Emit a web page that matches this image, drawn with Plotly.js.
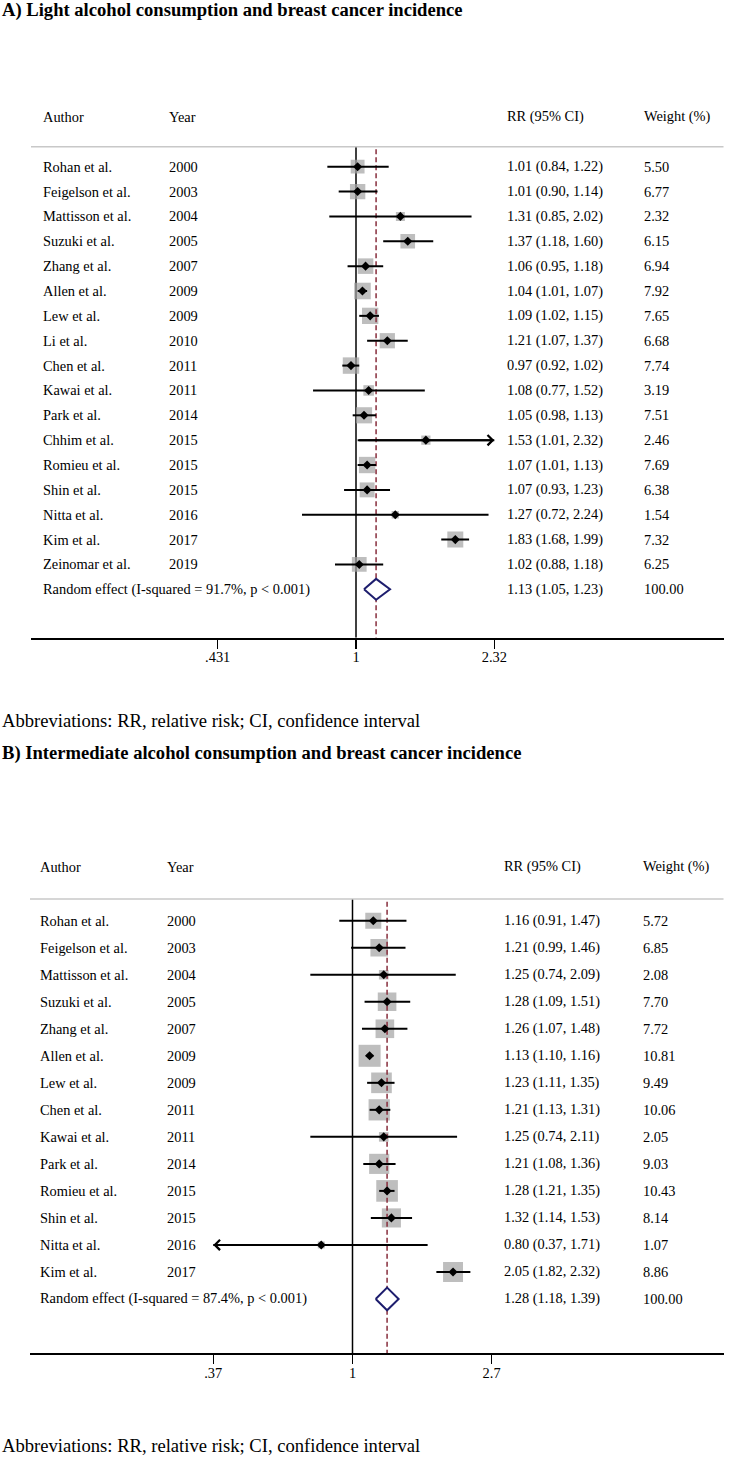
<!DOCTYPE html>
<html><head><meta charset="utf-8">
<script src="https://cdn.plot.ly/plotly-3.0.1.min.js"></script>
<style>html,body{margin:0;padding:0;background:#fff}#chart{width:750px;height:1458px}</style>
</head><body><div id="chart"></div>
<script>
// ---------- Panel A data ----------
const titleA = "A) Light alcohol consumption and breast cancer incidence";
const authorsA = ["Rohan et al.","Feigelson et al.","Mattisson et al.","Suzuki et al.","Zhang et al.","Allen et al.","Lew et al.","Li et al.","Chen et al.","Kawai et al.","Park et al.","Chhim et al.","Romieu et al.","Shin et al.","Nitta et al.","Kim et al.","Zeinomar et al."];
const yearsA = [2000,2003,2004,2005,2007,2009,2009,2010,2011,2011,2014,2015,2015,2015,2016,2017,2019];
const rrA = [1.01,1.01,1.31,1.37,1.06,1.04,1.09,1.21,0.97,1.08,1.05,1.53,1.07,1.07,1.27,1.83,1.02];
const loA = [0.84,0.90,0.85,1.18,0.95,1.01,1.02,1.07,0.92,0.77,0.98,1.01,1.01,0.93,0.72,1.68,0.88];
const hiA = [1.22,1.14,2.02,1.60,1.18,1.07,1.15,1.37,1.02,1.52,1.13,2.32,1.13,1.23,2.24,1.99,1.18];
const weightA = [5.50,6.77,2.32,6.15,6.94,7.92,7.65,6.68,7.74,3.19,7.51,2.46,7.69,6.38,1.54,7.32,6.25];
const pooledLabelA = "Random effect (I-squared = 91.7%, p < 0.001)";
const pooledA = [1.13,1.05,1.23,100.00];
const tickValsA = [0.431,1,2.32];
const tickTextA = [".431","1","2.32"];

// ---------- Panel B data ----------
const titleB = "B) Intermediate alcohol consumption and breast cancer incidence";
const authorsB = ["Rohan et al.","Feigelson et al.","Mattisson et al.","Suzuki et al.","Zhang et al.","Allen et al.","Lew et al.","Chen et al.","Kawai et al.","Park et al.","Romieu et al.","Shin et al.","Nitta et al.","Kim et al."];
const yearsB = [2000,2003,2004,2005,2007,2009,2009,2011,2011,2014,2015,2015,2016,2017];
const rrB = [1.16,1.21,1.25,1.28,1.26,1.13,1.23,1.21,1.25,1.21,1.28,1.32,0.80,2.05];
const loB = [0.91,0.99,0.74,1.09,1.07,1.10,1.11,1.13,0.74,1.08,1.21,1.14,0.37,1.82];
const hiB = [1.47,1.46,2.09,1.51,1.48,1.16,1.35,1.31,2.11,1.36,1.35,1.53,1.71,2.32];
const weightB = [5.72,6.85,2.08,7.70,7.72,10.81,9.49,10.06,2.05,9.03,10.43,8.14,1.07,8.86];
const pooledLabelB = "Random effect (I-squared = 87.4%, p < 0.001)";
const pooledB = [1.28,1.18,1.39,100.00];
const tickValsB = [0.37,1,2.7];
const tickTextB = [".37","1","2.7"];

const headers = ["Author","Year","RR (95% CI)","Weight (%)"];
const footnote = "Abbreviations: RR, relative risk; CI, confidence interval";

// ---------- layout / style ----------
const W = 750, H = 1458;
const FONT = "Liberation Serif, 'Times New Roman', Times, serif";
const TXT = 14.4;

const traces = [], annotations = [], shapes = [];
const layout = {
  width: W, height: H, margin:{l:0,r:0,t:0,b:0},
  paper_bgcolor:'white', plot_bgcolor:'white', showlegend:false,
  font:{family:FONT, size:TXT, color:'black'},
  annotations, shapes
};

function buildPanel(p) {
  const n = p.authors.length;
  const rows = p.authors.map((_, i) => i + 1);
  const pr = n + 1;
  const xa = p.xid, ya = p.yid;
  const axX = xa === 'x' ? 'xaxis' : 'xaxis' + xa.slice(1);
  const axY = ya === 'y' ? 'yaxis' : 'yaxis' + ya.slice(1);
  const bottomRow = 1 + (p.axisPx - p.row1Px) / p.pitch;
  const topRow = -3;
  const topPx = p.row1Px + (topRow - 1) * p.pitch;
  const sepRow = 0.2;
  const tmin = p.ticks[0], tmax = p.ticks[p.ticks.length - 1];

  layout[axX] = {
    type:'log', anchor: ya,
    domain:[p.x0Px / W, p.x1Px / W],
    range:[(p.x0Px - p.onePx) / p.ppd, (p.x1Px - p.onePx) / p.ppd],
    tickvals: p.ticks, ticktext: p.tickText,
    ticks:'outside', ticklen:9, tickwidth:1.5, tickcolor:'black',
    showline:true, linewidth:2, linecolor:'black',
    showgrid:false, zeroline:false, fixedrange:true,
    tickfont:{family:FONT, size:TXT, color:'black'}, ticklabelstandoff:-4
  };
  layout[axY] = {
    anchor: xa, domain:[1 - p.axisPx / H, 1 - topPx / H],
    range:[bottomRow, topRow], showgrid:false, zeroline:false,
    showticklabels:false, showline:false, ticks:'', fixedrange:true
  };

  // header separator line
  shapes.push({type:'line', xref:'paper', yref:ya, x0:p.x0Px / W, x1:p.x1Px / W, y0:sepRow, y1:sepRow,
    line:{color:'rgb(200,200,200)', width:1.5}});

  // null line
  traces.push({type:'scatter', mode:'lines', x:[1,1], y:[sepRow, bottomRow], xaxis:xa, yaxis:ya,
    line:{color:'black', width:1.5}, hoverinfo:'skip'});
  // weight boxes
  traces.push({type:'scatter', mode:'markers', x:p.rr, y:rows, xaxis:xa, yaxis:ya,
    marker:{symbol:'square', size:p.weight.map(w => p.boxK * Math.sqrt(w)), color:'rgb(162,162,162)', line:{width:0}},
    hoverinfo:'skip'});
  // pooled dashed line
  traces.push({type:'scatter', mode:'lines', x:[p.pooled[0], p.pooled[0]], y:[sepRow + 0.1, bottomRow], xaxis:xa, yaxis:ya,
    line:{color:'rgb(135,45,60)', width:1.5, dash:'5px,3px'}, hoverinfo:'skip'});
  // CI lines
  const cx = [], cy = [];
  rows.forEach((r, i) => {
    cx.push(Math.max(p.lo[i], tmin), Math.min(p.hi[i], tmax), null);
    cy.push(r, r, null);
  });
  traces.push({type:'scatter', mode:'lines', x:cx, y:cy, xaxis:xa, yaxis:ya,
    line:{color:'black', width:2}, hoverinfo:'skip'});
  // point estimates
  traces.push({type:'scatter', mode:'markers', x:p.rr, y:rows, xaxis:xa, yaxis:ya,
    marker:{symbol:'diamond', size:7, color:'black'}, hoverinfo:'skip'});
  // pooled diamond
  const h = 0.42;
  traces.push({type:'scatter', mode:'lines', fill:'toself', fillcolor:'white',
    x:[p.pooled[1], p.pooled[0], p.pooled[2], p.pooled[0], p.pooled[1]],
    y:[pr, pr - h, pr, pr + h, pr], xaxis:xa, yaxis:ya,
    line:{color:'rgb(30,30,110)', width:2}, hoverinfo:'skip'});

  // arrows for clipped CIs
  rows.forEach((r, i) => {
    if (p.hi[i] >= tmax) {
      annotations.push({xref:xa, yref:ya, axref:xa, ayref:ya, x:Math.log10(tmax), y:r,
        ax:Math.log10(Math.max(p.lo[i], tmin)), ay:r, text:'', showarrow:true,
        arrowhead:4, arrowwidth:2, arrowsize:1, arrowcolor:'black'});
    }
    if (p.lo[i] <= tmin) {
      annotations.push({xref:xa, yref:ya, axref:xa, ayref:ya, x:Math.log10(tmin), y:r,
        ax:Math.log10(Math.min(p.hi[i], tmax)), ay:r, text:'', showarrow:true,
        arrowhead:4, arrowwidth:2, arrowsize:1, arrowcolor:'black'});
    }
  });

  // text columns
  const addText = (txt, colIdx, row) => annotations.push({
    xref:'paper', yref:ya, x:p.cols[colIdx] / W, y:row, xanchor:'left', yanchor:'middle',
    text:txt, showarrow:false, font:{family:FONT, size:TXT, color:'black'}});
  headers.forEach((t, c) => addText(t, c, -1));
  rows.forEach((r, i) => {
    addText(p.authors[i], 0, r);
    addText(String(p.years[i]), 1, r);
    addText(p.rr[i].toFixed(2) + ' (' + p.lo[i].toFixed(2) + ', ' + p.hi[i].toFixed(2) + ')', 2, r);
    addText(p.weight[i].toFixed(2), 3, r);
  });
  addText(p.pooledLabel, 0, pr);
  addText(p.pooled[0].toFixed(2) + ' (' + p.pooled[1].toFixed(2) + ', ' + p.pooled[2].toFixed(2) + ')', 2, pr);
  addText(p.pooled[3].toFixed(2), 3, pr);

  // panel title and footnote
  annotations.push({xref:'paper', yref:'paper', x:0, y:1 - p.titlePx / H, xanchor:'left', yanchor:'middle',
    text:'<b>' + p.title + '</b>', showarrow:false, font:{family:FONT, size:18.6, color:'black'}});
  annotations.push({xref:'paper', yref:'paper', x:0, y:1 - p.notePx / H, xanchor:'left', yanchor:'middle',
    text:footnote, showarrow:false, font:{family:FONT, size:18.6, color:'black'}});
}

buildPanel({
  xid:'x', yid:'y', title:titleA, authors:authorsA, years:yearsA, rr:rrA, lo:loA, hi:hiA, weight:weightA,
  pooled:pooledA, pooledLabel:pooledLabelA, ticks:tickValsA, tickText:tickTextA,
  x0Px:31, x1Px:723.5, onePx:356, ppd:378.4, row1Px:166.7, pitch:24.86, axisPx:637.7,
  cols:[40.6,167.1,504.8,642.3], boxK:5.9, titlePx:10, notePx:720
});
buildPanel({
  xid:'x2', yid:'y2', title:titleB, authors:authorsB, years:yearsB, rr:rrB, lo:loB, hi:hiB, weight:weightB,
  pooled:pooledB, pooledLabel:pooledLabelB, ticks:tickValsB, tickText:tickTextB,
  x0Px:30, x1Px:723.5, onePx:352.5, ppd:322.5, row1Px:920.7, pitch:27.02, axisPx:1353.3,
  cols:[38.2,164.8,502.4,641.4], boxK:6.7, titlePx:753, notePx:1445
});

Plotly.newPlot('chart', traces, layout, {staticPlot:true, displayModeBar:false});
</script>
</body></html>
